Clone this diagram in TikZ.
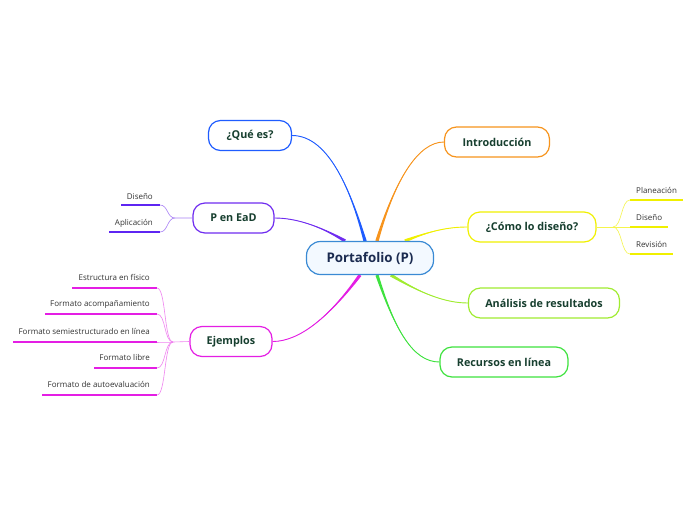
\documentclass[tikz,border=0pt]{standalone}
\usepackage{fontspec}
\setmainfont{Open Sans}
\usetikzlibrary{calc}
\pgfdeclarelayer{paper}
\pgfdeclarelayer{bg}
\pgfsetlayers{paper,bg,main}
\definecolor{cblue}{HTML}{1F5CFF}
\definecolor{corange}{HTML}{F7941D}
\definecolor{cyellow}{HTML}{F0F000}
\definecolor{clime}{HTML}{A0EC30}
\definecolor{cgreen}{HTML}{3EE23E}
\definecolor{cpurple}{HTML}{6F2CF0}
\definecolor{cmagenta}{HTML}{E41EE4}
\definecolor{ccentral}{HTML}{3A8AD4}
\definecolor{cfill}{HTML}{F3F9FF}
\definecolor{ctext}{HTML}{173F2F}
\definecolor{cnavy}{HTML}{1B2B50}
\definecolor{csub}{HTML}{333333}
\tikzset{
  topic/.style={draw, line width=1.2pt, rounded corners=12pt, fill=white,
    font=\fontsize{10.8}{13}\selectfont\bfseries, text=ctext, minimum height=30pt, inner sep=0pt},
  central/.style={draw=ccentral, line width=1.2pt, rounded corners=14pt, fill=cfill,
    font=\fontsize{13.3}{16}\selectfont\bfseries, text=cnavy, minimum height=33pt, minimum width=127pt, inner sep=0pt},
  thinbranch/.style={line width=0.9pt},
  subtext/.style={font=\fontsize{8}{9}\selectfont, text=csub, inner sep=0pt},
  uline/.style={line width=1.6pt},
  twig/.style={line width=0.6pt}
}
% tapered branch: #1 colour, #2 start coord name, #3 ctrl1, #4 ctrl2, #5 end, #6 offset
\newcommand\taperbranch[6]{%
  \fill[#1] ($(#2)-(#6)$) .. controls #3 and #4 .. (#5) .. controls #4 and #3 .. ($(#2)+(#6)$) -- cycle;
  \draw[thinbranch, #1] (#2) .. controls #3 and #4 .. (#5);
}
\begin{document}
\begin{tikzpicture}[x=1pt,y=-1pt]
\begin{pgfonlayer}{paper}
\fill[white] (0,0) rectangle (696,520);
\end{pgfonlayer}
\useasboundingbox (0,0) rectangle (696,520);
% main nodes
\node[central] (c) at (370,258) {Portafolio (P)};
\node[topic, draw=corange, minimum width=105pt] (intro) at (497,142) {Introducción};
\node[topic, draw=cyellow, minimum width=128pt] (como) at (532,227) {¿Cómo lo diseño?};
\node[topic, draw=clime, minimum width=151pt] (anal) at (544,303) {Análisis de resultados};
\node[topic, draw=cgreen, minimum width=128pt] (recu) at (504,362) {Recursos en línea};
\node[topic, draw=cblue, minimum width=83pt] (que) at (250,135.5) {¿Qué es?};
\node[topic, draw=cpurple, minimum width=81pt] (pead) at (233.5,218) {P en EaD};
\node[topic, draw=cmagenta, minimum width=82pt] (ejem) at (231,341.5) {Ejemplos};

% start points of main connectors on the central node
\coordinate (bq) at ([xshift=-5pt]c.north);
\coordinate (bi) at ([xshift=7pt]c.north);
\coordinate (bc) at ([xshift=35pt]c.north);
\coordinate (ba) at ([xshift=21pt]c.south);
\coordinate (br) at ([xshift=7pt]c.south);
\coordinate (be) at ([xshift=-10pt]c.south);
\coordinate (bp) at ([xshift=-25pt]c.north);

% main connectors (tapered), behind the nodes
\begin{pgfonlayer}{bg}
\taperbranch{cblue}{bq}{(352,195)}{(330,135.5)}{que.east}{1.7,0}
\taperbranch{corange}{bi}{(395,180)}{(418,142)}{intro.west}{1.6,0.4}
\taperbranch{cyellow}{bc}{(430,231)}{(448,227)}{como.west}{0.6,1.5}
\taperbranch{clime}{ba}{(420,293)}{(445,303)}{anal.west}{-0.9,1.35}
\taperbranch{cgreen}{br}{(395,330)}{(413,362)}{recu.west}{1.5,-0.5}
\taperbranch{cmagenta}{be}{(330,316)}{(300,341.5)}{ejem.east}{1.3,0.95}
\taperbranch{cpurple}{bp}{(320,226)}{(296,218)}{pead.east}{-0.85,1.36}
\end{pgfonlayer}

% P en EaD sub items
\coordinate (pb) at (175,218);
\coordinate (d1l) at (121,205); \coordinate (d1r) at (160,205);
\coordinate (d2l) at (109,232); \coordinate (d2r) at (160,232);
\draw[uline, cpurple!85!blue] (d1l) -- (d1r);
\draw[uline, cpurple!85!blue] (d2l) -- (d2r);
\draw[twig, cpurple!60] (pead.west) -- (pb) .. controls (167,218) and (168,205) .. (d1r);
\draw[twig, cpurple!60] (pb) .. controls (167,218) and (168,232) .. (d2r);
\node[subtext, anchor=base east] (s1) at (153,199) {Diseño};
\node[subtext, anchor=base east] (s2) at (153,225) {Aplicación};

% Ejemplos sub items
\coordinate (eb) at (173,342);
\foreach \n/\xl/\yy in {1/72/288, 2/45/314, 3/13/342, 4/94/368, 5/42/395}{
  \coordinate (e\n l) at (\xl,\yy); \coordinate (e\n r) at (157,\yy);
  \draw[uline, cmagenta] (e\n l) -- (e\n r);
  \draw[twig, cmagenta!55] (eb) .. controls (164,342) and (166,\yy) .. (e\n r);
}
\draw[twig, cmagenta!55] (ejem.west) -- (eb);
\node[subtext, anchor=base east] (t1) at (150,280) {Estructura en físico};
\node[subtext, anchor=base east] (t2) at (150,306) {Formato acompañamiento};
\node[subtext, anchor=base east] (t3) at (150,334) {Formato semiestructurado en línea};
\node[subtext, anchor=base east] (t4) at (150,360) {Formato libre};
\node[subtext, anchor=base east] (t5) at (150,387) {Formato de autoevaluación};

% Como sub items
\coordinate (cb) at (613,227);
\coordinate (r1l) at (630,200); \coordinate (r1r) at (683,200);
\coordinate (r2l) at (630,227); \coordinate (r2r) at (668,227);
\coordinate (r3l) at (630,254); \coordinate (r3r) at (673,254);
\draw[uline, cyellow] (r1l) -- (r1r);
\draw[uline, cyellow] (r2l) -- (r2r);
\draw[uline, cyellow] (r3l) -- (r3r);
\draw[twig, cyellow!70] (como.east) -- (cb);
\draw[twig, cyellow!70] (cb) .. controls (622,227) and (621,200) .. (r1l);
\draw[twig, cyellow!70] (cb) -- (r2l);
\draw[twig, cyellow!70] (cb) .. controls (622,227) and (621,254) .. (r3l);
\node[subtext, anchor=base west] (u1) at (636,193) {Planeación};
\node[subtext, anchor=base west] (u2) at (636,220) {Diseño};
\node[subtext, anchor=base west] (u3) at (636,247) {Revisión};
\end{tikzpicture}
\end{document}
